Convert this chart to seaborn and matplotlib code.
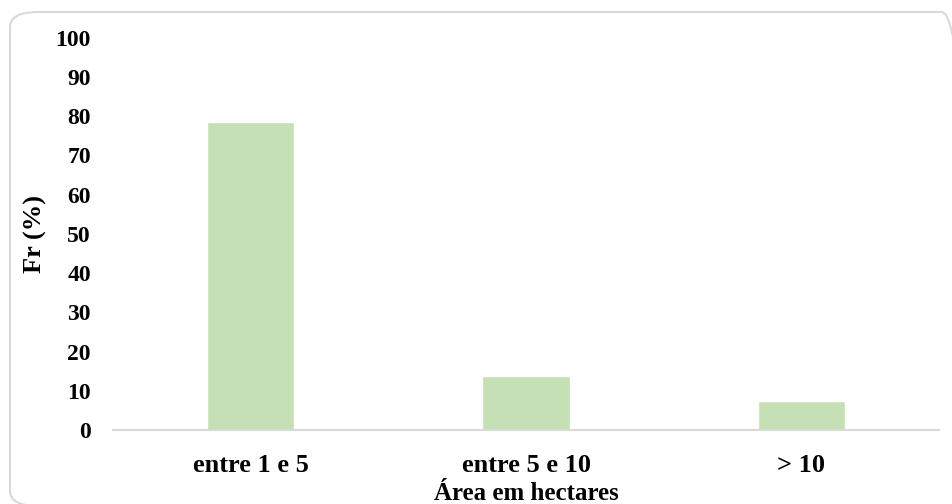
import matplotlib
matplotlib.use("Agg")
import matplotlib.pyplot as plt
from matplotlib.patches import FancyBboxPatch
import seaborn as sns
import pandas as pd

# Relative frequency of properties by area class
categories = ["entre 1 e 5", "entre 5 e 10", "> 10"]
freq_pct = [78.6, 13.8, 7.4]
y_ticks = [0, 10, 20, 30, 40, 50, 60, 70, 80, 90, 100]

df = pd.DataFrame({"area": categories, "fr": freq_pct})

sns.set_theme(style="white")
plt.rcParams["font.family"] = ["Liberation Serif", "DejaVu Serif"]
plt.rcParams["font.weight"] = "bold"
plt.rcParams["text.color"] = "black"
plt.rcParams["axes.labelcolor"] = "black"
plt.rcParams["xtick.color"] = "black"
plt.rcParams["ytick.color"] = "black"

W, H = 952, 504
fig = plt.figure(figsize=(W / 100, H / 100), dpi=100)

# rounded chart-area frame
frame = FancyBboxPatch((10 / W, (H - 506) / H), 960 / W, 494 / H,
                       boxstyle="round,pad=0,rounding_size=0.03",
                       transform=fig.transFigure, facecolor="none",
                       edgecolor="#d9d9d9", linewidth=1.5, zorder=-1)
fig.patches.append(frame)

ax = fig.add_axes([113 / W, 74 / H, (939 - 113) / W, (430 - 37.7) / H])
ax.set_facecolor("none")

sns.barplot(data=df, x="area", y="fr", color="#C5E0B4", saturation=1,
            width=0.316, ax=ax)

ax.set_ylim(0, 100)
ax.set_xlim(-0.5, 2.5)
ax.set_yticks(y_ticks)
ax.set_yticklabels([str(t) for t in y_ticks], fontsize=17, fontweight="bold",
                   color="black")
ax.set_xticks(range(len(categories)))
ax.set_xticklabels(categories, fontsize=19, fontweight="bold", color="black")
ax.tick_params(axis="y", length=0, pad=16)
ax.tick_params(axis="x", length=0, pad=17)

ax.set_xlabel("Área em hectares", fontsize=18, fontweight="bold",
              labelpad=4, color="black")
ax.set_ylabel("Fr (%)", fontsize=19, fontweight="bold", labelpad=6,
              color="black")
ax.yaxis.label.set_y(0.5)

for side in ["top", "right", "left"]:
    ax.spines[side].set_visible(False)
ax.spines["bottom"].set_color("#d9d9d9")
ax.spines["bottom"].set_linewidth(1.5)

fig.savefig("out.png", dpi=100)
